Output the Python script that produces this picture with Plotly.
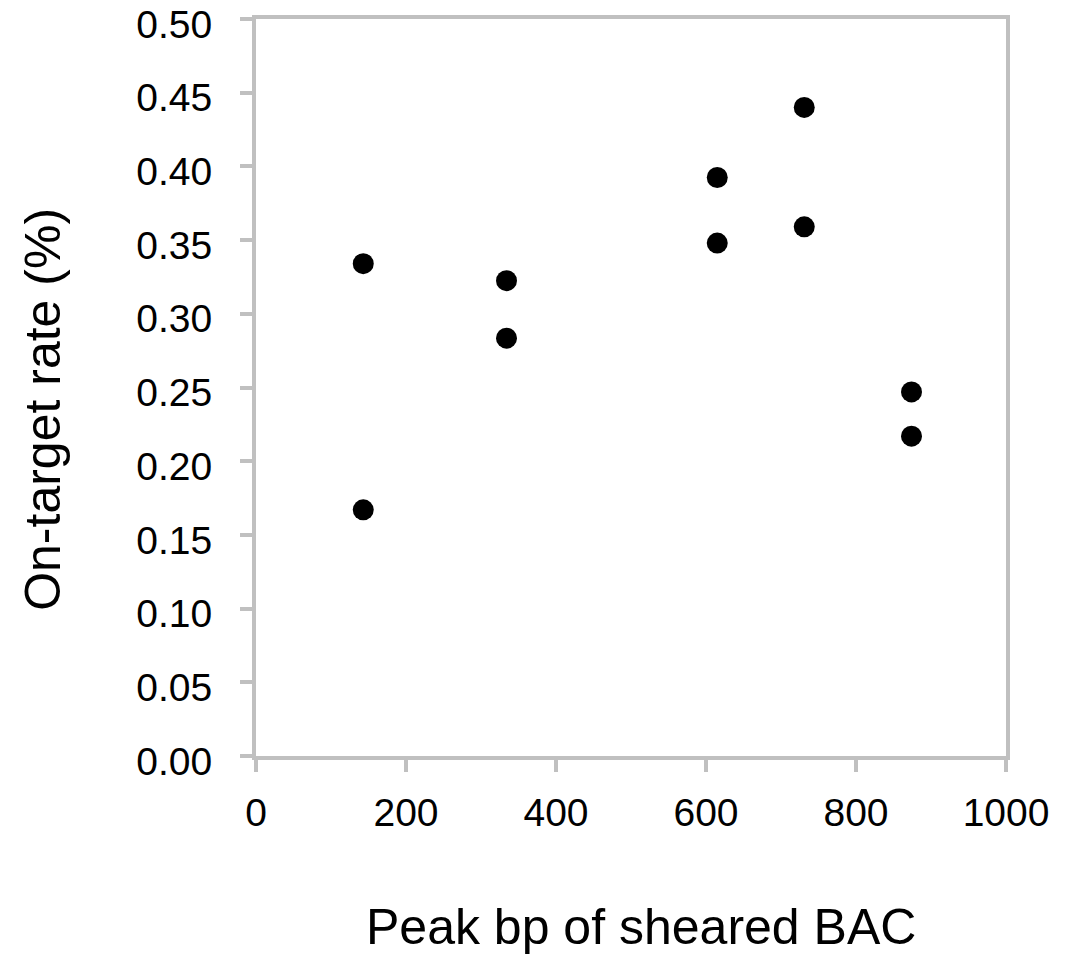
import plotly.graph_objects as go

peak_bp = [143, 143, 334, 334, 615, 615, 731, 731, 874, 874]
on_target = [0.334, 0.167, 0.3225, 0.2835, 0.3925, 0.348, 0.440, 0.359, 0.247, 0.217]

x_ticks = [0, 200, 400, 600, 800, 1000]
y_ticks = [0.00, 0.05, 0.10, 0.15, 0.20, 0.25, 0.30, 0.35, 0.40, 0.45, 0.50]
y_tick_labels = [f"{v:.2f}" for v in y_ticks]

FONT = "Liberation Sans, Arial, sans-serif"
AX = "#c0c0c0"

fig = go.Figure(go.Scatter(
    x=peak_bp, y=on_target, mode="markers",
    marker=dict(color="black", size=21, line=dict(width=0)),
))

fig.update_layout(
    width=1066, height=955,
    margin=dict(l=256, r=60, t=19, b=199),
    paper_bgcolor="white", plot_bgcolor="white",
    showlegend=False,
    font=dict(family=FONT, color="black", size=39),
)
fig.update_xaxes(
    range=[0, 1000], tickvals=x_ticks, ticktext=[str(v) for v in x_ticks],
    showgrid=False, zeroline=False, automargin=False,
    showline=True, linecolor=AX, linewidth=4, mirror=True,
    ticks="outside", ticklen=12, tickwidth=4, tickcolor=AX,
    tickfont=dict(size=39, family=FONT, color="black"),
    ticklabelstandoff=7, ticklabeloverflow="allow",
)
fig.update_yaxes(
    range=[0, 0.50001], tickvals=y_ticks, ticktext=y_tick_labels,
    showgrid=False, zeroline=False, automargin=False,
    showline=True, linecolor=AX, linewidth=4, mirror=True,
    ticks="outside", ticklen=12, tickwidth=4, tickcolor=AX,
    tickfont=dict(size=39, family=FONT, color="black"),
    ticklabelstandoff=20, ticklabeloverflow="allow", ticklabelshift=5,
)
fig.add_annotation(text="Peak bp of sheared BAC", xref="paper", yref="paper",
                   x=0.513, y=-0.232, xanchor="center", yanchor="middle",
                   showarrow=False, font=dict(size=50, family=FONT, color="black"))
fig.add_annotation(text="On-target rate (%)", xref="paper", yref="paper",
                   x=-0.285, y=0.47, xanchor="center", yanchor="middle", textangle=-90,
                   showarrow=False, font=dict(size=50, family=FONT, color="black"))

fig.write_html("out.html", post_script="document.body.style.margin='0';",
               config={"displayModeBar": False})
